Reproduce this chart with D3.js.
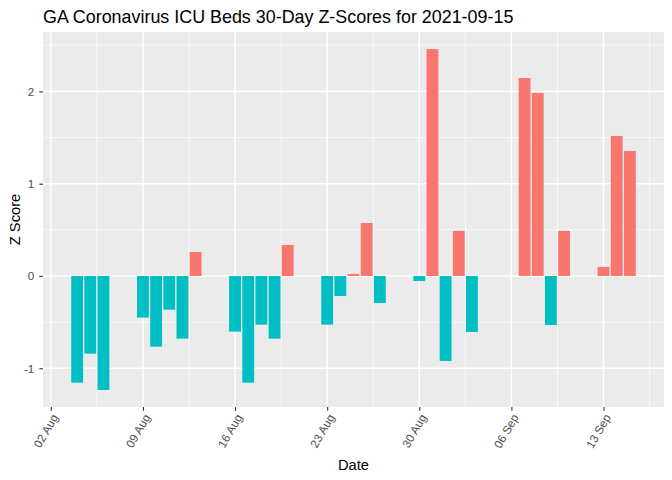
<!DOCTYPE html>
<html>
<head>
<meta charset="utf-8">
<script src="https://cdn.jsdelivr.net/npm/d3@7"></script>
<style>
  body { margin: 0; background: #fff; }
  text { font-family: "Liberation Sans", Arial, sans-serif; }
</style>
</head>
<body>
<div id="chart"></div>
<script>
// report dates (weekdays only, Labor Day missing)
var dates = [
    "2021-08-04", "2021-08-05", "2021-08-06",
    "2021-08-09", "2021-08-10", "2021-08-11", "2021-08-12", "2021-08-13",
    "2021-08-16", "2021-08-17", "2021-08-18", "2021-08-19", "2021-08-20",
    "2021-08-23", "2021-08-24", "2021-08-25", "2021-08-26", "2021-08-27",
    "2021-08-30", "2021-08-31", "2021-09-01", "2021-09-02", "2021-09-03",
    "2021-09-07", "2021-09-08", "2021-09-09", "2021-09-10",
    "2021-09-13", "2021-09-14", "2021-09-15"
];
var zScores = [
    -1.156, -0.842, -1.235,
    -0.451, -0.766, -0.365, -0.679, 0.26,
    -0.603, -1.156, -0.527, -0.679, 0.336,
    -0.527, -0.217, 0.022, 0.574, -0.293,
    -0.054, 2.459, -0.921, 0.488, -0.607,
    2.145, 1.983, -0.531, 0.488,
    0.098, 1.517, 1.354
];
var yTicks = [-1, 0, 1, 2];
var yMinor = [-0.5, 0.5, 1.5, 2.5];
var title = "GA Coronavirus ICU Beds 30-Day Z-Scores for 2021-09-15";

var width = 672;
var height = 480;
var margin = { left: 43, top: 32, right: 8, bottom: 73 };
var innerWidth = width - margin.left - margin.right;
var innerHeight = height - margin.top - margin.bottom;

var parse = d3.utcParse("%Y-%m-%d");
var DAY = 864e5;
var data = dates.map(function(d, i) {
    return { date: parse(d), value: zScores[i] };
});

// ggplot-like 5% expansion around bars of width 0.9 day
var x0 = d3.min(data, function(d) { return +d.date; }) - 0.45 * DAY;
var x1 = d3.max(data, function(d) { return +d.date; }) + 0.45 * DAY;
var xpad = (x1 - x0) * 0.05;
var x = d3.scaleUtc()
    .domain([new Date(x0 - xpad), new Date(x1 + xpad)])
    .range([0, innerWidth]);

var y0 = d3.min(zScores), y1 = d3.max(zScores);
var ypad = (y1 - y0) * 0.05;
var y = d3.scaleLinear()
    .domain([y0 - ypad, y1 + ypad])
    .range([innerHeight, 0]);

var weekTicks = d3.utcMonday.range(x.domain()[0], x.domain()[1]);
var weekMinor = weekTicks.map(function(d) { return new Date(+d + 3.5 * DAY); })
    .concat([new Date(+weekTicks[0] - 3.5 * DAY)])
    .filter(function(d) { return d >= x.domain()[0] && d <= x.domain()[1]; });

var svg = d3.select("#chart").append("svg")
    .attr("width", width)
    .attr("height", height);

var g = svg.append("g")
    .attr("transform", "translate(" + margin.left + "," + margin.top + ")");

g.append("rect")
    .attr("width", innerWidth)
    .attr("height", innerHeight)
    .attr("fill", "#EBEBEB");

// minor grid
g.selectAll(".ygm").data(yMinor).enter().append("line")
    .attr("x1", 0).attr("x2", innerWidth)
    .attr("y1", function(d) { return y(d); })
    .attr("y2", function(d) { return y(d); })
    .attr("stroke", "#fff").attr("stroke-width", 0.7);
g.selectAll(".xgm").data(weekMinor).enter().append("line")
    .attr("y1", 0).attr("y2", innerHeight)
    .attr("x1", function(d) { return x(d); })
    .attr("x2", function(d) { return x(d); })
    .attr("stroke", "#fff").attr("stroke-width", 0.7);

// major grid
g.selectAll(".yg").data(yTicks).enter().append("line")
    .attr("x1", 0).attr("x2", innerWidth)
    .attr("y1", function(d) { return y(d); })
    .attr("y2", function(d) { return y(d); })
    .attr("stroke", "#fff").attr("stroke-width", 1.4);
g.selectAll(".xg").data(weekTicks).enter().append("line")
    .attr("y1", 0).attr("y2", innerHeight)
    .attr("x1", function(d) { return x(d); })
    .attr("x2", function(d) { return x(d); })
    .attr("stroke", "#fff").attr("stroke-width", 1.4);

// bars
var barW = x(new Date(0.9 * DAY)) - x(new Date(0));
g.selectAll(".bar").data(data).enter().append("rect")
    .attr("x", function(d) { return x(d.date) - barW / 2; })
    .attr("width", barW)
    .attr("y", function(d) { return y(Math.max(0, d.value)); })
    .attr("height", function(d) { return Math.abs(y(d.value) - y(0)); })
    .attr("fill", function(d) { return d.value > 0 ? "#F8766D" : "#00BFC4"; });

// y axis
var yAxis = g.append("g")
    .call(d3.axisLeft(y).tickValues(yTicks).tickSize(3.7).tickPadding(5)
        .tickFormat(function(d) { return String(d); }));
yAxis.select(".domain").remove();
yAxis.selectAll("line").attr("stroke", "#333333").attr("stroke-width", 1.1);
yAxis.selectAll("text")
    .attr("fill", "#4D4D4D")
    .style("font-size", "11.7px");

// x axis
var xAxis = g.append("g")
    .attr("transform", "translate(0," + innerHeight + ")")
    .call(d3.axisBottom(x).tickValues(weekTicks).tickSize(3.7)
        .tickFormat(d3.utcFormat("%d %b")));
xAxis.select(".domain").remove();
xAxis.selectAll("line").attr("stroke", "#333333").attr("stroke-width", 1.1);
xAxis.selectAll("text")
    .attr("fill", "#4D4D4D")
    .style("font-size", "11.7px")
    .attr("text-anchor", "end")
    .attr("y", 0)
    .attr("dy", "0.71em")
    .attr("transform", "translate(0,6) rotate(-60)");

// titles
svg.append("text")
    .attr("x", margin.left)
    .attr("y", 23)
    .style("font-size", "17.9px")
    .attr("fill", "#000")
    .text(title);

svg.append("text")
    .attr("x", margin.left + innerWidth / 2)
    .attr("y", 470)
    .attr("text-anchor", "middle")
    .style("font-size", "14.7px")
    .attr("fill", "#000")
    .text("Date");

svg.append("text")
    .attr("transform", "translate(20," + (margin.top + innerHeight / 2) + ") rotate(-90)")
    .attr("text-anchor", "middle")
    .style("font-size", "14.7px")
    .attr("fill", "#000")
    .text("Z Score");
</script>
</body>
</html>
